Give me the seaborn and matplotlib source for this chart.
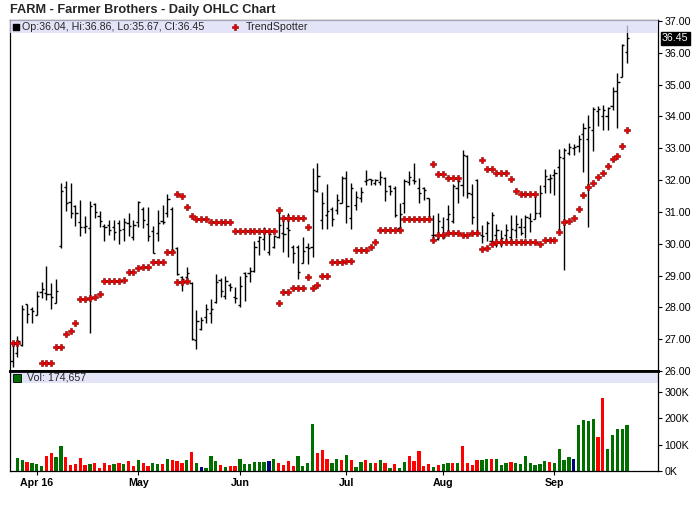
import matplotlib

matplotlib.use("Agg")
import matplotlib.pyplot as plt
import matplotlib.transforms as mtransforms
import numpy as np
import pandas as pd
import seaborn as sns

N = None

# daily OHLC, Mar 24 2016 .. Sep 23 2016 (bar index 0..127)
opens = [
    26.30, 26.55, 26.82, 28.10, 27.95, 27.75, 28.47, 28.46, 28.41, 28.15,
    29.92, 31.77, 31.32, 31.19, 30.69, 30.52, 30.50, 31.24, 30.88, 30.56,
    30.59, 30.54, 30.66, 30.45, 30.66, 30.22, 30.69, 31.10, 30.62, 30.39,
    30.35, 30.72, 30.98, 31.10, 29.85, 28.96, 28.94, 28.75, 26.98, 27.32,
    27.71, 27.81, 28.18, 28.85, 28.36, 28.70, 28.34, 28.07, 29.09, 29.07,
    29.13, 30.10, 30.14, 29.75, 29.90, 30.20, 30.35, 30.50, 29.90, 29.90,
    29.38, 29.90, 29.90, 31.66, 30.75, 30.90, 31.10, 31.06, 31.27, 32.06,
    30.80, 31.22, 31.43, 31.97, 32.02, 31.90, 31.95, 32.07, 31.80, 31.74,
    30.50, 31.27, 31.95, 32.00, 31.74, 31.74, 31.43, 30.28, 30.14, 30.54,
    30.77, 30.70, 31.74, 31.85, 32.76, 31.56, 32.00, 30.28, 30.33, 30.10,
    30.28, 30.01, 30.28, 30.22, 30.43, 30.54, 30.54, 30.80, 30.77, 30.98,
    31.81, 32.02, 32.16, 32.42, 32.68, 32.86, 33.00, 33.07, 33.45, 33.30,
    33.56, 34.18, 34.01, 34.00, 34.33, 34.80, 35.23, 36.04,
]
highs = [
    26.92, 27.10, 28.07, 28.10, 28.02, 28.50, 28.80, 29.30, 28.78, 28.90,
    31.92, 31.97, 31.92, 31.22, 31.37, 30.87, 31.34, 31.27, 31.03, 30.62,
    30.75, 30.73, 30.75, 30.80, 30.98, 30.75, 31.34, 31.14, 31.16, 30.56,
    31.06, 31.22, 31.56, 31.15, 29.90, 29.00, 29.28, 28.80, 27.92, 27.70,
    28.10, 28.25, 29.05, 28.91, 28.99, 28.75, 28.63, 28.97, 29.11, 29.28,
    30.07, 30.24, 30.52, 30.43, 30.27, 31.06, 30.85, 30.96, 29.96, 29.96,
    30.22, 30.03, 32.37, 32.55, 31.64, 31.88, 31.14, 31.56, 32.13, 32.29,
    31.92, 31.67, 31.77, 32.32, 32.02, 32.02, 32.29, 32.09, 31.85, 31.81,
    31.27, 32.02, 32.29, 32.55, 32.06, 31.79, 31.43, 30.90, 30.98, 30.83,
    31.22, 31.88, 32.02, 32.93, 32.79, 31.88, 32.02, 30.59, 30.72, 31.01,
    30.62, 30.43, 30.62, 30.90, 30.90, 30.80, 30.90, 30.95, 31.56, 31.85,
    32.34, 32.19, 32.34, 32.97, 33.00, 33.16, 33.13, 33.42, 33.78, 34.05,
    34.29, 34.33, 34.36, 34.29, 34.94, 35.38, 36.28, 36.86,
]
lows = [
    26.14, 26.45, 26.80, 27.52, 27.52, 27.75, 28.30, 28.23, 27.96, 28.15,
    29.85, 31.04, 30.81, 30.57, 30.25, 30.33, 27.20, 30.82, 30.54, 30.10,
    30.27, 30.12, 29.99, 30.10, 30.24, 30.12, 30.52, 30.48, 30.10, 29.70,
    30.10, 30.62, 30.85, 29.75, 29.02, 28.50, 28.78, 26.97, 26.69, 27.30,
    27.50, 27.50, 28.13, 28.32, 28.25, 28.52, 28.15, 28.00, 28.21, 28.81,
    29.11, 29.65, 29.80, 29.65, 29.86, 30.17, 29.75, 29.57, 29.40, 28.88,
    29.38, 29.35, 29.59, 31.64, 30.45, 30.45, 30.56, 30.93, 31.27, 30.66,
    30.45, 31.06, 31.32, 31.85, 31.85, 31.85, 31.85, 31.35, 31.53, 30.83,
    30.43, 30.98, 31.85, 31.88, 31.29, 31.37, 30.75, 30.14, 30.12, 30.14,
    30.33, 30.66, 31.27, 31.50, 31.43, 30.62, 30.27, 30.03, 30.07, 30.03,
    29.89, 29.89, 30.10, 30.01, 30.17, 30.27, 30.17, 30.38, 30.77, 30.83,
    31.58, 31.58, 31.53, 30.38, 29.17, 32.79, 32.79, 32.89, 32.26, 30.52,
    32.92, 33.70, 33.57, 33.57, 34.20, 33.63, 35.23, 35.67,
]
closes = [
    26.85, 26.95, 27.95, 27.79, 27.90, 28.35, 28.58, 28.42, 28.33, 28.52,
    31.65, 31.29, 30.98, 30.96, 30.54, 30.56, 31.19, 31.00, 30.71, 30.52,
    30.43, 30.36, 30.43, 30.69, 30.56, 30.58, 31.32, 30.75, 30.24, 29.72,
    30.64, 30.68, 31.40, 29.80, 29.05, 28.88, 29.07, 27.02, 27.56, 27.60,
    27.94, 27.96, 28.80, 28.50, 28.83, 28.63, 28.28, 28.67, 29.00, 29.15,
    29.91, 30.20, 30.38, 30.30, 30.25, 30.60, 30.30, 30.43, 29.72, 29.10,
    29.77, 29.85, 31.69, 32.13, 31.27, 31.04, 30.77, 31.37, 32.06, 31.19,
    31.74, 31.46, 31.64, 32.00, 32.00, 32.00, 32.10, 31.67, 31.67, 30.90,
    30.92, 31.97, 32.09, 31.98, 31.60, 31.69, 30.77, 30.28, 30.72, 30.22,
    30.94, 31.81, 31.98, 32.79, 31.58, 30.83, 30.33, 30.25, 30.64, 30.90,
    30.43, 30.17, 30.43, 30.45, 30.62, 30.35, 30.83, 30.72, 30.98, 31.60,
    32.13, 32.05, 32.21, 32.74, 32.95, 33.05, 33.05, 33.28, 33.65, 33.66,
    34.22, 34.22, 34.20, 34.25, 34.80, 35.09, 36.25, 36.45,
]

# volume in thousands, and bar colour code (g = up, r = down, b = unchanged)
volume_k = [
    0, 50, 41.5, 34, 30, 27.7, 20, 56.6, 68, 53,
    94, 53, 24, 26, 50, 22.6, 27.7, 30, 12.6, 30,
    22.6, 26, 30, 26, 37.7, 18.9, 41.5, 30, 18.9, 30,
    26, 26, 45, 41.5, 37.7, 30, 41.5, 71.7, 30, 15,
    11, 56.6, 37.7, 22.6, 15, 18.9, 18.9, 45, 26, 26,
    34, 34, 34, 37.7, 45, 30, 22.6, 37.7, 18.9, 56.6,
    18.9, 30, 177, 68, 79, 45, 30, 45, 41.5, 60,
    41.5, 15, 34, 41.5, 30, 30, 41.5, 30, 11, 26,
    11, 34, 56.6, 37.7, 75, 18.9, 26, 15, 22.6, 26,
    30, 30, 30, 94, 30, 22.6, 41.5, 41.5, 45, 45,
    45, 22.6, 30, 34, 30, 26, 56.6, 30, 22.6, 26,
    37.7, 34, 30, 83, 41.5, 53, 45, 172, 192, 188,
    196, 128, 275, 83, 136, 158, 158, 174.657,
]
vol_dir = list(
    "gggrgggrrg"  # 0-9
    "grrrrrgrrr"  # 10-19
    "rgrgrrgrrg"  # 20-29
    "grgrrrgrgb"  # 30-39
    "gggrgrrggg"  # 40-49
    "gggbgrrrrg"  # 50-59
    "gggrrrggrg"  # 60-69
    "rggrgrgrgr"  # 70-79
    "ggrrrrrgrg"  # 80-89
    "grgrrrrggr"  # 90-99
    "gggrgggggg"  # 100-109
    "grggggbggg"  # 110-119
    "grrggggg"    # 120-127
)

# TrendSpotter dots: points above price and points below price
trend_upper = (
    [N] * 34
    + [31.56, 31.50, 31.14, 30.86, 30.77, 30.77, 30.77,
       30.67, 30.67, 30.67, 30.67, 30.67,
       30.40, 30.40, 30.40, 30.40, 30.40, 30.40, 30.40, 30.40, 30.40,
       31.06, 30.80, 30.80, 30.80, 30.80, 30.80, 30.52]
    + [N] * 25
    + [32.50, 32.18, 32.18, 32.06, 32.06, 32.06]
    + [N] * 4
    + [32.62, 32.36, 32.34, 32.21, 32.21, 32.21, 32.02, 31.66,
       31.56, 31.56, 31.56, 31.56]
    + [N] * 19
)
trend_lower = (
    [26.87, 26.87, N, N, N, N, 26.24, 26.24, 26.24, 26.75,
     26.76, 27.15, 27.25, 27.50, 28.25, 28.25, 28.28, 28.33, 28.41, 28.82,
     28.82, 28.82, 28.82, 28.85, 29.10, 29.10, 29.23, 29.26, 29.26, 29.42,
     29.42, 29.42, 29.73, 29.73, 28.79, 28.79, 28.84]
    + [N] * 18
    + [28.13, 28.47, 28.47, 28.60, 28.60, 28.60, 28.94, 28.60, 28.69, 28.99,
       29.00, 29.42, 29.42, 29.42, 29.45, 29.45, 29.79, 29.79, 29.79, 29.89,
       30.04, 30.42, 30.42, 30.42, 30.42, 30.42, 30.77, 30.77, 30.77, 30.77,
       30.77, 30.77, 30.11, 30.26, 30.26, 30.33, 30.33, 30.33, 30.26, 30.26,
       30.33, 30.33, 29.82, 29.88, 30.00, 30.04, 30.04, 30.04, 30.04, 30.04,
       30.04, 30.04, 30.04, 30.04, 29.98, 30.13, 30.13, 30.13, 30.36, 30.67,
       30.71, 30.80, 31.08, 31.52, 31.79, 31.92, 32.09, 32.21, 32.44, 32.65,
       32.76, 33.07, 33.57]
)

month_ticks = [5, 26, 47, 69, 89, 112]
month_labels = ["Apr 16", "May", "Jun", "Jul", "Aug", "Sep"]
price_ticks = [26, 27, 28, 29, 30, 31, 32, 33, 34, 35, 36, 37]
vol_ticks = [0, 100, 200, 300]
vol_tick_labels = ["0K", "100K", "200K", "300K"]
vol_colors = {"g": "#006f00", "r": "#ff0000", "b": "#000080"}

sns.set_theme(style="white")
plt.rcParams["font.family"] = ["Liberation Sans", "DejaVu Sans"]

W, H = 700, 512
fig = plt.figure(figsize=(W / 100, H / 100), dpi=100)
x0, x1 = 10 / W, 658 / W
ax = fig.add_axes([x0, 1 - 371 / H, x1 - x0, (371 - 20) / H])
axv = fig.add_axes([x0, 1 - 471 / H, x1 - x0, (471 - 371) / H], sharex=ax)

idx = np.arange(len(closes))
df = pd.DataFrame({
    "idx": idx, "open": opens, "high": highs, "low": lows, "close": closes,
    "vol": volume_k, "dir": vol_dir,
    "up": pd.array(trend_upper, dtype="Float64").astype(float),
    "dn": pd.array(trend_lower, dtype="Float64").astype(float),
})

# OHLC bars
tick = 0.45
ax.vlines(df["idx"], df["low"], df["high"], color="black", lw=1.0, zorder=2)
ax.hlines(df["open"], df["idx"] - tick, df["idx"], color="black", lw=1.0, zorder=2)
ax.hlines(df["close"], df["idx"], df["idx"] + tick, color="black", lw=1.0, zorder=2)

# TrendSpotter dots
for col in ("up", "dn"):
    sub = df.dropna(subset=[col])
    sns.scatterplot(data=sub, x="idx", y=col, ax=ax, marker="P", s=15,
                    color="#ee0000", edgecolor="#7a0000", linewidth=0.4,
                    zorder=4, legend=False)

ax.set_xlim(-0.52, 133.4)
ax.set_ylim(26.0, 37.03)
ax.axhspan(36.62, 37.03, color="#dcdcf8", alpha=0.75, lw=0, zorder=3)

ax.yaxis.tick_right()
ax.set_yticks(price_ticks)
ax.set_yticklabels([f"{v:.2f}" for v in price_ticks])
ax.tick_params(axis="y", right=True, left=False, length=3, width=0.8,
               pad=1.5, labelsize=7.7, colors="black", direction="out")
ax.tick_params(axis="x", bottom=False, labelbottom=False)
ax.set_xlabel("")
ax.set_ylabel("")
for s in ax.spines.values():
    s.set_color("black")
    s.set_linewidth(0.9)
ax.spines["bottom"].set_linewidth(2.0)

# last close flag
trans = mtransforms.blended_transform_factory(ax.transAxes, ax.transData)
ax.text(1.006, closes[-1], f"{closes[-1]:.2f}", transform=trans, color="white",
        fontsize=7.7, va="center", ha="left",
        bbox=dict(boxstyle="square,pad=0.12", fc="black", ec="black"))

# price legend band
ax.scatter([0.0095], [0.981], transform=ax.transAxes, marker="s", s=22,
           color="black", zorder=5, clip_on=False)
ax.text(0.018, 0.981,
        f"Op:{opens[-1]:.2f}, Hi:{highs[-1]:.2f}, Lo:{lows[-1]:.2f}, Cl:{closes[-1]:.2f}",
        transform=ax.transAxes, fontsize=7.7, va="center", ha="left", zorder=5)
ax.scatter([0.347], [0.981], transform=ax.transAxes, marker="P", s=15,
           color="#ee0000", edgecolor="#7a0000", linewidth=0.4, zorder=5)
ax.text(0.364, 0.981, "TrendSpotter", transform=ax.transAxes, fontsize=7.7,
        va="center", ha="left", zorder=5)

# volume panel: one bar per day, coloured by direction
sns.barplot(data=df, x="idx", y="vol", ax=axv, native_scale=True,
            color=vol_colors["g"], width=0.68, saturation=1, zorder=2)
for patch, d in zip(axv.patches, df["dir"]):
    patch.set_facecolor(vol_colors[d])
    patch.set_edgecolor("none")
axv.set_ylim(0, 378)
axv.axhspan(333, 378, color="#dcdcf8", alpha=0.75, lw=0, zorder=1)
axv.scatter([0.0115], [0.93], transform=axv.transAxes, marker="s", s=30,
            color=vol_colors["g"], edgecolor="black", linewidth=0.6, zorder=5)
axv.text(0.026, 0.93, f"Vol: {round(volume_k[-1] * 1000):,}",
         transform=axv.transAxes, fontsize=7.7, va="center", ha="left", zorder=5)

axv.yaxis.tick_right()
axv.set_yticks(vol_ticks)
axv.set_yticklabels(vol_tick_labels)
axv.tick_params(axis="y", right=True, left=False, length=3, width=0.8,
                pad=1.5, labelsize=7.7, colors="black", direction="out")
axv.set_xticks(month_ticks)
axv.set_xticklabels(month_labels, fontweight="bold")
axv.tick_params(axis="x", bottom=True, length=3, width=0.8, pad=2,
                labelsize=7.7, colors="black", direction="out")
axv.set_xlim(-0.52, 133.4)
axv.set_xlabel("")
axv.set_ylabel("")
for s in axv.spines.values():
    s.set_color("black")
    s.set_linewidth(0.9)
axv.spines["top"].set_linewidth(2.0)

fig.text(10 / W, 1 - 10 / H, "FARM - Farmer Brothers - Daily OHLC Chart",
         fontsize=9.2, fontweight="bold", va="center", ha="left")

fig.savefig("out.png", dpi=100, facecolor="white")
